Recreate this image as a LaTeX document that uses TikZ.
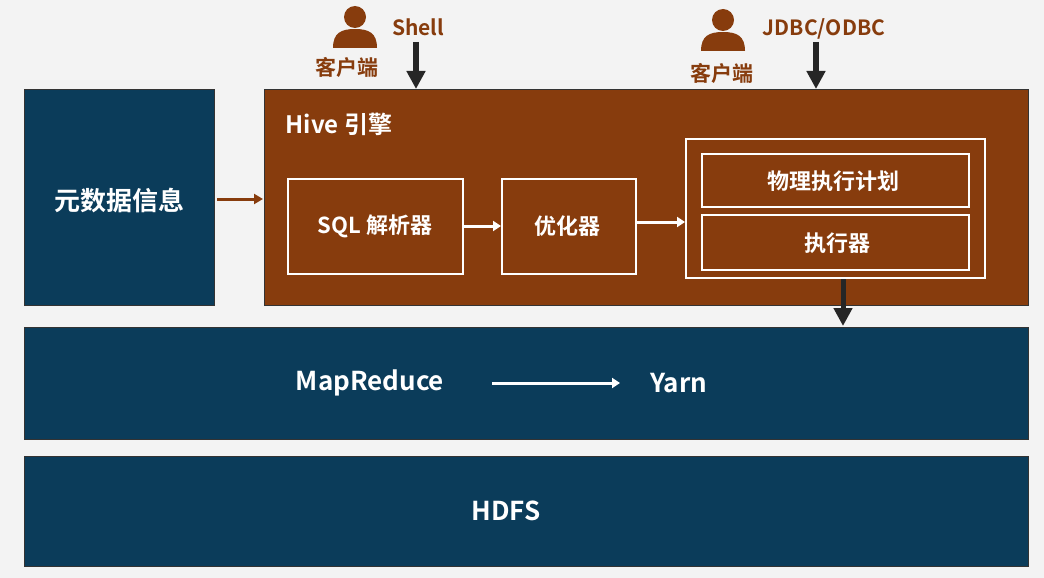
\documentclass[tikz,border=0pt]{standalone}
\usepackage{fontspec}
\setmainfont{Noto Sans CJK SC}[BoldFont={Noto Sans CJK SC Bold}]
\usetikzlibrary{arrows.meta}
\definecolor{dblue}{HTML}{0B3C5A}
\definecolor{brn}{HTML}{873C0D}
\definecolor{bg}{HTML}{F3F3F3}
\begin{document}
\begin{tikzpicture}[x=1pt,y=-1pt,
  blk/.style={fill=dblue,draw=black!80,line width=0.6pt},
  wbox/.style={draw=white,line width=2.5pt},
  lbl/.style={text=white,font=\bfseries\fontsize{26}{28}\selectfont},
  wl/.style={text=white,font=\bfseries\fontsize{22}{24}\selectfont},
  bt/.style={text=brn,font=\bfseries\fontsize{21}{23}\selectfont},
  warr/.style={draw=white,line width=3pt,-{Triangle[length=8pt,width=10pt]}},
  karr/.style={draw=black!85,line width=5pt,-{Triangle[length=18pt,width=18pt]}}]
\useasboundingbox (0,0) rectangle (1044,578);
\fill[bg] (0,0) rectangle (1044,578);
% layers
\draw[blk] (24,89) rectangle (214,305);
\node[lbl] (meta) at (119,201) {元数据信息};
\draw[fill=brn,draw=black!80,line width=0.6pt] (264,89) rectangle (1028,305);
\coordinate (hiveL) at (263,199);
\node[wl,anchor=west,font=\bfseries\fontsize{24}{26}\selectfont] (hive) at (282,124) {Hive 引擎};
\draw[blk] (24,327) rectangle (1028,439);
\draw[blk] (24,456) rectangle (1028,566);
\node[lbl] (hdfs) at (506,511) {HDFS};
\node[lbl] (mr) at (370,383) {MapReduce};
\node[lbl] (yarn) at (679,383) {Yarn};
\draw[warr] (492,383) -- (620,383);
% inner boxes
\draw[wbox] (288,179) rectangle (463,274);
\node[wl] (sql) at (375,226) {SQL 解析器};
\draw[wbox] (502,179) rectangle (636,274);
\node[wl] (opt) at (567,226) {优化器};
\draw[wbox] (686,139) rectangle (985,278);
\draw[draw=white,line width=1.5pt] (702,154) rectangle (969,207);
\draw[draw=white,line width=1.5pt] (702,215) rectangle (969,270);
\node[wl] (plan) at (833,181) {物理执行计划};
\node[wl] (exe) at (837,243) {执行器};
\coordinate (sqlR) at (464,226); \coordinate (optL) at (501,226);
\coordinate (optR) at (637,222); \coordinate (outL) at (685,222);
\draw[warr] (sqlR) -- (optL);
\draw[warr] (optR) -- (outL);
\draw[draw=brn,line width=3pt,-{Triangle[length=9pt,width=10pt]}] (217,199) -- (hiveL);
\coordinate (d1) at (843,279); \coordinate (d2) at (843,326);
\draw[karr] (d1) -- (d2);
% clients
\foreach \px/\py/\nm in {355/25/a,723/28/b}{
  \fill[brn] (\px,\py-8) circle (11);
  \fill[brn] (\px-22,\py+23) .. controls (\px-22,\py+8) and (\px-14,\py+4) .. (\px,\py+4) .. controls (\px+14,\py+4) and (\px+22,\py+8) .. (\px+22,\py+23) -- cycle;
}
\node[bt] (c1) at (347,67) {客户端};
\node[bt] (c2) at (722,73) {客户端};
\node[bt] (shell) at (418,27) {Shell};
\node[bt] (jdbc) at (824,29) {JDBC/ODBC};
\coordinate (s1) at (416,42); \coordinate (s2) at (416,89);
\coordinate (j1) at (816,42); \coordinate (j2) at (816,89);
\draw[karr,line width=6pt] (s1) -- (s2);
\draw[karr,line width=6pt] (j1) -- (j2);
\end{tikzpicture}
\end{document}
